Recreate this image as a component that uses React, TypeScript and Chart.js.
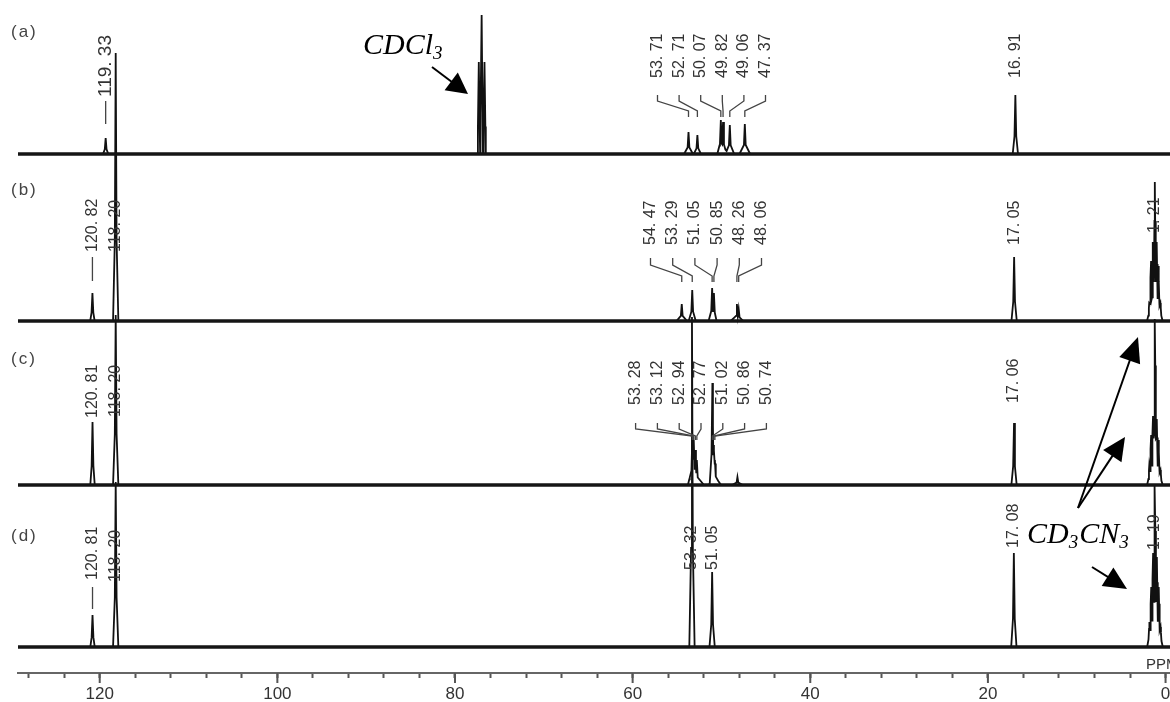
import React, { useEffect, useRef } from 'react';
import { Chart, registerables } from 'chart.js';

Chart.register(...registerables);

// ---------------- data (chemical shift in ppm, intensity in arbitrary units) ----------------
const panelNames = ['(a)', '(b)', '(c)', '(d)'];

// (a) in CDCl3
const peaksAPpm = [119.33, 77.32, 77.0, 76.68, 53.71, 52.71, 50.07, 49.82, 49.06, 47.37, 16.91];
const peaksAHeight = [16, 92, 139, 92, 22, 19, 34, 32, 29, 30, 59];
const peaksAWidth = [0.3, 0.15, 0.15, 0.15, 0.5, 0.4, 0.4, 0.4, 0.5, 0.6, 0.3];
const labelsA = [119.33, 53.71, 52.71, 50.07, 49.82, 49.06, 47.37, 16.91];

// (b) in CD3CN
const peaksBPpm = [120.82, 118.2, 54.47, 53.29, 51.05, 50.85, 48.26, 48.06, 17.05, 1.84, 1.63, 1.42, 1.21, 1.0, 0.79, 0.58];
const peaksBHeight = [28, 268, 17, 31, 33, 28, 17, 12, 64, 18, 60, 79, 139, 79, 55, 18];
const peaksBWidth = [0.25, 0.3, 0.6, 0.4, 0.4, 0.3, 0.7, 0.5, 0.3, 0.25, 0.25, 0.25, 0.25, 0.25, 0.25, 0.25];
const labelsB = [120.82, 118.2, 54.47, 53.29, 51.05, 50.85, 48.26, 48.06, 17.05, 1.21];

// (c) in CD3CN
const peaksCPpm = [120.81, 118.2, 53.28, 53.12, 52.94, 52.77, 51.02, 50.86, 50.74, 48.2, 17.06, 1.83, 1.62, 1.41, 1.2, 0.99, 0.78, 0.57];
const peaksCHeight = [63, 170, 48, 45, 35, 25, 102, 40, 25, 8, 62, 20, 50, 69, 166, 66, 45, 15];
const peaksCWidth = [0.25, 0.3, 0.5, 0.5, 0.6, 0.8, 0.3, 0.5, 0.7, 0.6, 0.3, 0.25, 0.25, 0.25, 0.25, 0.25, 0.25, 0.25];
const labelsC = [120.81, 118.2, 53.28, 53.12, 52.94, 52.77, 51.02, 50.86, 50.74, 17.06];

// (d) in CD3CN
const peaksDPpm = [120.81, 118.2, 53.32, 51.05, 17.08, 1.82, 1.61, 1.4, 1.19, 0.98, 0.77, 0.56];
const peaksDHeight = [32, 165, 330, 75, 94, 25, 60, 94, 161, 90, 60, 20];
const peaksDWidth = [0.25, 0.3, 0.3, 0.3, 0.3, 0.25, 0.25, 0.25, 0.25, 0.25, 0.25, 0.25];
const labelsD = [120.81, 118.2, 53.32, 51.05, 17.08, 1.19];

// axis
const xMinorTicks = [0, 4, 8, 12, 16, 20, 24, 28, 32, 36, 40, 44, 48, 52, 56, 60, 64, 68, 72, 76, 80, 84, 88, 92, 96, 100, 104, 108, 112, 116, 120, 124, 128];
const xTickLabels = [120, 100, 80, 60, 40, 20, 0];

// ---------------- layout ----------------
const X_LEFT_PPM = 129.2;
const X_RIGHT_PPM = -0.5;
const Y_TOP = 673;
const PANEL_OFFSETS = [519, 352, 188, 26];
const TIP = 0.1;
const SKIRT = 0.3;

const SERIES = [
  { ppm: peaksAPpm, height: peaksAHeight, width: peaksAWidth, labels: labelsA },
  { ppm: peaksBPpm, height: peaksBHeight, width: peaksBWidth, labels: labelsB },
  { ppm: peaksCPpm, height: peaksCHeight, width: peaksCWidth, labels: labelsC },
  { ppm: peaksDPpm, height: peaksDHeight, width: peaksDWidth, labels: labelsD },
];

type Group = { start: number; count: number; center: number; spacing: number; ys: number[] };
type PanelLayout = { nameY: number; bottoms: number[]; group?: Group; leads?: Record<number, number[]>; sizes?: Record<number, number> };

const PANELS: PanelLayout[] = [
  {
    nameY: 32,
    bottoms: [97, 78, 78, 78, 78, 78, 78, 78],
    group: { start: 1, count: 6, center: 711.5, spacing: 21.6, ys: [95, 101, 111, 117] },
    leads: { 0: [101, 124] },
    sizes: { 0: 19 },
  },
  {
    nameY: 190,
    bottoms: [252, 252, 245, 245, 245, 245, 245, 245, 245, 233],
    group: { start: 2, count: 6, center: 706, spacing: 22.2, ys: [258, 265, 276, 282] },
    leads: { 0: [257, 281] },
  },
  {
    nameY: 359,
    bottoms: [418, 417, 405, 405, 405, 405, 405, 405, 405, 403],
    group: { start: 2, count: 7, center: 701, spacing: 21.8, ys: [423, 429, 436, 440] },
  },
  {
    nameY: 536,
    bottoms: [580, 582, 570, 570, 548, 550],
    leads: { 0: [587, 609] },
  },
];

function lineShape(d: number, h: number, w: number) {
  const ad = Math.abs(d);
  if (ad <= TIP) return h * (1 - (1 - SKIRT) * ad / TIP);
  if (ad < w) return SKIRT * h * (w - ad) / (w - TIP);
  return 0;
}

function trace(ppm: number[], height: number[], width: number[], offset: number) {
  const xs = new Set<number>([X_LEFT_PPM, X_RIGHT_PPM]);
  ppm.forEach((p, i) => {
    const w = Math.max(width[i], TIP + 0.01);
    [p - w, p - TIP, p, p + TIP, p + w].forEach((v) => xs.add(Math.round(v * 10000) / 10000));
  });
  const sorted = Array.from(xs).sort((a, b) => b - a);
  return sorted.map((xv) => {
    let y = 0;
    ppm.forEach((p, i) => {
      y = Math.max(y, lineShape(xv - p, height[i], Math.max(width[i], TIP + 0.01)));
    });
    return { x: xv, y: offset + y };
  });
}

const fmt = (v: number) => v.toFixed(2).replace('.', '. ');

function drawArrow(ctx: CanvasRenderingContext2D, x1: number, y1: number, x2: number, y2: number, headLen: number, headW: number) {
  const a = Math.atan2(y2 - y1, x2 - x1);
  const c = Math.cos(a);
  const s = Math.sin(a);
  ctx.beginPath();
  ctx.moveTo(x1, y1);
  ctx.lineTo(x2 - headLen * 0.7 * c, y2 - headLen * 0.7 * s);
  ctx.stroke();
  const bx = x2 - headLen * c;
  const by = y2 - headLen * s;
  ctx.beginPath();
  ctx.moveTo(x2, y2);
  ctx.lineTo(bx + headW * s, by - headW * c);
  ctx.lineTo(bx - headW * s, by + headW * c);
  ctx.closePath();
  ctx.fill();
}

function drawChem(ctx: CanvasRenderingContext2D, parts: string[], x: number, baseline: number) {
  let cx = x;
  parts.forEach((p, i) => {
    const sub = i % 2 === 1;
    ctx.font = sub ? 'italic 19px "Liberation Serif"' : 'italic 30px "Liberation Serif"';
    ctx.fillText(p, cx, baseline + (sub ? 5 : 0));
    cx += ctx.measureText(p).width + (sub ? 1 : 0);
  });
}

const annotationPlugin = {
  id: 'nmrAnnotations',
  afterDraw(chart: any) {
    const { ctx, chartArea } = chart;
    const xs = chart.scales.x;
    const axisY = chartArea.bottom;
    ctx.save();

    // longer major ticks
    ctx.strokeStyle = '#555';
    ctx.lineWidth = 2;
    xTickLabels.forEach((v) => {
      const px = xs.getPixelForValue(v);
      ctx.beginPath();
      ctx.moveTo(px, axisY);
      ctx.lineTo(px, axisY + 10);
      ctx.stroke();
    });

    // PPM unit
    ctx.fillStyle = '#333';
    ctx.font = '15px "Liberation Sans"';
    ctx.textAlign = 'left';
    ctx.textBaseline = 'alphabetic';
    ctx.fillText('PPM', 1146, axisY - 4);

    PANELS.forEach((layout, i) => {
      const s = SERIES[i];
      ctx.fillStyle = '#444';
      ctx.font = '17px "Liberation Sans"';
      (ctx as any).letterSpacing = '2px';
      ctx.textAlign = 'left';
      ctx.textBaseline = 'middle';
      ctx.fillText(panelNames[i], 11, layout.nameY);
      (ctx as any).letterSpacing = '0px';

      s.labels.forEach((v, k) => {
        const px = xs.getPixelForValue(v);
        const g = layout.group;
        const inGroup = !!g && k >= g.start && k < g.start + g.count;
        const lx = inGroup && g ? g.center + (k - g.start - (g.count - 1) / 2) * g.spacing : px;
        const bottom = layout.bottoms[k];
        const size = (layout.sizes && layout.sizes[k]) || 16;
        ctx.save();
        ctx.translate(lx, bottom);
        ctx.rotate(-Math.PI / 2);
        ctx.fillStyle = '#333';
        ctx.font = `${size}px "Liberation Sans"`;
        ctx.textAlign = 'left';
        ctx.textBaseline = 'middle';
        ctx.fillText(fmt(v), 0, 0);
        ctx.restore();

        ctx.strokeStyle = '#444';
        ctx.lineWidth = 1.3;
        if (inGroup && g) {
          const [yA, yB, yC, yD] = g.ys;
          ctx.beginPath();
          ctx.moveTo(lx, yA);
          ctx.lineTo(lx, yB);
          ctx.lineTo(px, yC);
          ctx.lineTo(px, yD);
          ctx.stroke();
        }
        const lead = layout.leads && layout.leads[k];
        if (lead) {
          ctx.beginPath();
          ctx.moveTo(lx, lead[0]);
          ctx.lineTo(lx, lead[1]);
          ctx.stroke();
        }
      });
    });

    // solvent annotations
    ctx.fillStyle = '#000';
    ctx.strokeStyle = '#000';
    ctx.lineWidth = 2;
    ctx.textAlign = 'left';
    ctx.textBaseline = 'alphabetic';
    drawChem(ctx, ['CDCl', '3'], 363, 54);
    drawArrow(ctx, 432, 67, 468, 94, 21, 11);

    drawChem(ctx, ['CD', '3', 'CN', '3'], 1027, 543);
    drawArrow(ctx, 1078, 508, 1138, 337, 25, 11);
    drawArrow(ctx, 1078, 508, 1125, 437, 23, 11);
    drawArrow(ctx, 1092, 567, 1127, 589, 23, 11);

    ctx.restore();
  },
};

export default function App() {
  const canvasRef = useRef<HTMLCanvasElement | null>(null);

  useEffect(() => {
    if (!canvasRef.current) return;
    const datasets: any[] = [];
    SERIES.forEach((s, i) => {
      const off = PANEL_OFFSETS[i];
      datasets.push({
        data: [{ x: X_LEFT_PPM, y: off }, { x: X_RIGHT_PPM, y: off }],
        borderColor: '#151515',
        borderWidth: 3.6,
        pointRadius: 0,
      });
      datasets.push({
        data: trace(s.ppm, s.height, s.width, off),
        borderColor: '#111',
        borderWidth: 1.8,
        pointRadius: 0,
      });
    });

    const chart = new Chart(canvasRef.current, {
      type: 'line',
      data: { datasets },
      options: {
        animation: false,
        responsive: false,
        events: [],
        layout: { padding: { left: 18, right: 0, top: 0, bottom: 0 } },
        plugins: { legend: { display: false }, tooltip: { enabled: false } },
        elements: { line: { tension: 0 }, point: { radius: 0 } },
        scales: {
          x: {
            type: 'linear',
            reverse: true,
            min: X_RIGHT_PPM,
            max: X_LEFT_PPM,
            afterFit: (scale: any) => {
              scale.height = 29;
            },
            afterBuildTicks: (scale: any) => {
              scale.ticks = xMinorTicks.map((v) => ({ value: v }));
            },
            ticks: {
              autoSkip: false,
              maxRotation: 0,
              minRotation: 0,
              padding: 6,
              color: '#333',
              font: { family: 'Liberation Sans', size: 17 },
              callback: (v: any) => (xTickLabels.includes(Number(v)) ? String(v) : ''),
            },
            grid: { drawOnChartArea: false, drawTicks: true, tickLength: 5, tickWidth: 2, tickColor: '#555' },
            border: { display: true, color: '#666', width: 2 },
          },
          y: { display: false, min: 0, max: Y_TOP },
        },
      } as any,
      plugins: [annotationPlugin],
    });
    return () => chart.destroy();
  }, []);

  return (
    <div style={{ position: 'fixed', left: 0, top: 0, width: 1170, height: 702, background: '#fff' }}>
      <canvas ref={canvasRef} width={1170} height={702} style={{ display: 'block' }} />
    </div>
  );
}
